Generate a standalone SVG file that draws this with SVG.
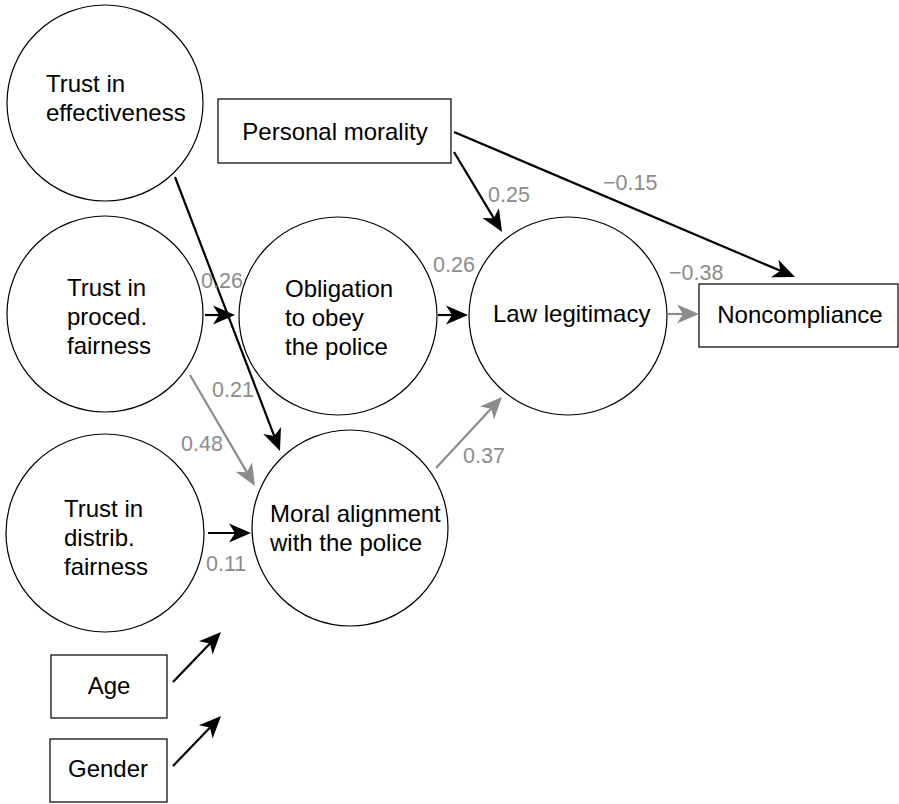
<svg xmlns="http://www.w3.org/2000/svg" width="899" height="804" viewBox="0 0 899 804">
<style>
.node circle, .node rect { fill: #fff; stroke: #000; stroke-width: 1.2; }
.t { font-family: "Liberation Sans", Arial, sans-serif; font-size: 24px; fill: #000; }
.c { text-anchor: middle; }
.lbl { font-family: "Liberation Sans", Arial, sans-serif; font-size: 21.5px; fill: #8c8c8c; }
.k { stroke: #000; stroke-width: 2.2; fill: none; marker-end: url(#ak); }
.g { stroke: #8c8c8c; stroke-width: 2.2; fill: none; marker-end: url(#ag); }
</style>
<defs>
<marker id="ak" markerUnits="userSpaceOnUse" markerWidth="24" markerHeight="22" viewBox="0 -11 24 22" refX="12" refY="0" orient="auto" overflow="visible">
<path d="M22,0 L0,-9.5 L6,0 L0,9.5 Z" fill="#000"/>
</marker>
<marker id="ag" markerUnits="userSpaceOnUse" markerWidth="24" markerHeight="22" viewBox="0 -11 24 22" refX="12" refY="0" orient="auto" overflow="visible">
<path d="M22,0 L0,-9.5 L6,0 L0,9.5 Z" fill="#8c8c8c"/>
</marker>
</defs>
<rect width="899" height="804" fill="#fff"/>

<g id="trust-effectiveness" class="node">
<circle cx="105" cy="103" r="98"/>
<text class="t" x="46" y="92">Trust in</text>
<text class="t" x="46" y="121">effectiveness</text>
</g>
<g id="trust-proced" class="node">
<circle cx="105" cy="314" r="98"/>
<text class="t" x="67" y="296">Trust in</text>
<text class="t" x="67" y="325">proced.</text>
<text class="t" x="67" y="354">fairness</text>
</g>
<g id="trust-distrib" class="node">
<circle cx="105" cy="533" r="99"/>
<text class="t" x="64" y="517">Trust in</text>
<text class="t" x="64" y="546">distrib.</text>
<text class="t" x="64" y="575">fairness</text>
</g>
<g id="obligation" class="node">
<circle cx="338" cy="316" r="99"/>
<text class="t" x="285" y="297">Obligation</text>
<text class="t" x="285" y="326">to obey</text>
<text class="t" x="285" y="355">the police</text>
</g>
<g id="moral-alignment" class="node">
<circle cx="350" cy="528" r="98"/>
<text class="t" x="270" y="522">Moral alignment</text>
<text class="t" x="270" y="551">with the police</text>
</g>
<g id="law-legitimacy" class="node">
<circle cx="568" cy="316" r="99"/>
<text class="t" x="493" y="322">Law legitimacy</text>
</g>
<g id="personal-morality" class="node">
<rect x="218" y="99" width="233" height="64"/>
<text class="t c" x="335" y="140">Personal morality</text>
</g>
<g id="noncompliance" class="node">
<rect x="699" y="284" width="199" height="63"/>
<text class="t c" x="800" y="323">Noncompliance</text>
</g>
<g id="age" class="node">
<rect x="51" y="655" width="116" height="63"/>
<text class="t c" x="109" y="694">Age</text>
</g>
<g id="gender" class="node">
<rect x="50" y="739" width="117" height="63"/>
<text class="t c" x="108" y="777">Gender</text>
</g>

<g id="connectors">
<line class="k" x1="175" y1="177" x2="276.4" y2="441.7"/>
<line class="k" x1="205" y1="315" x2="225" y2="315"/>
<line class="g" x1="190" y1="375" x2="249.9" y2="477.4"/>
<line class="k" x1="208" y1="533" x2="241" y2="533"/>
<line class="k" x1="438" y1="315" x2="458" y2="315"/>
<line class="g" x1="436" y1="468" x2="495.2" y2="404.3"/>
<line class="k" x1="454" y1="152" x2="496.9" y2="223.4"/>
<line class="k" x1="454" y1="132" x2="785.8" y2="273.1"/>
<line class="g" x1="667" y1="314" x2="689" y2="314"/>
<line class="k" x1="173" y1="682" x2="214.1" y2="639.2"/>
<line class="k" x1="173" y1="766" x2="214.1" y2="723.2"/>
</g>

<g id="labels">
<text class="lbl" x="201" y="288">0.26</text>
<text class="lbl" x="433" y="272">0.26</text>
<text class="lbl" x="212" y="397">0.21</text>
<text class="lbl" x="181" y="451">0.48</text>
<text class="lbl" x="463" y="463">0.37</text>
<text class="lbl" x="488" y="202">0.25</text>
<text class="lbl" x="603" y="190">−0.15</text>
<text class="lbl" x="669" y="280">−0.38</text>
<text class="lbl" x="206" y="571">0.11</text>
</g>
</svg>
